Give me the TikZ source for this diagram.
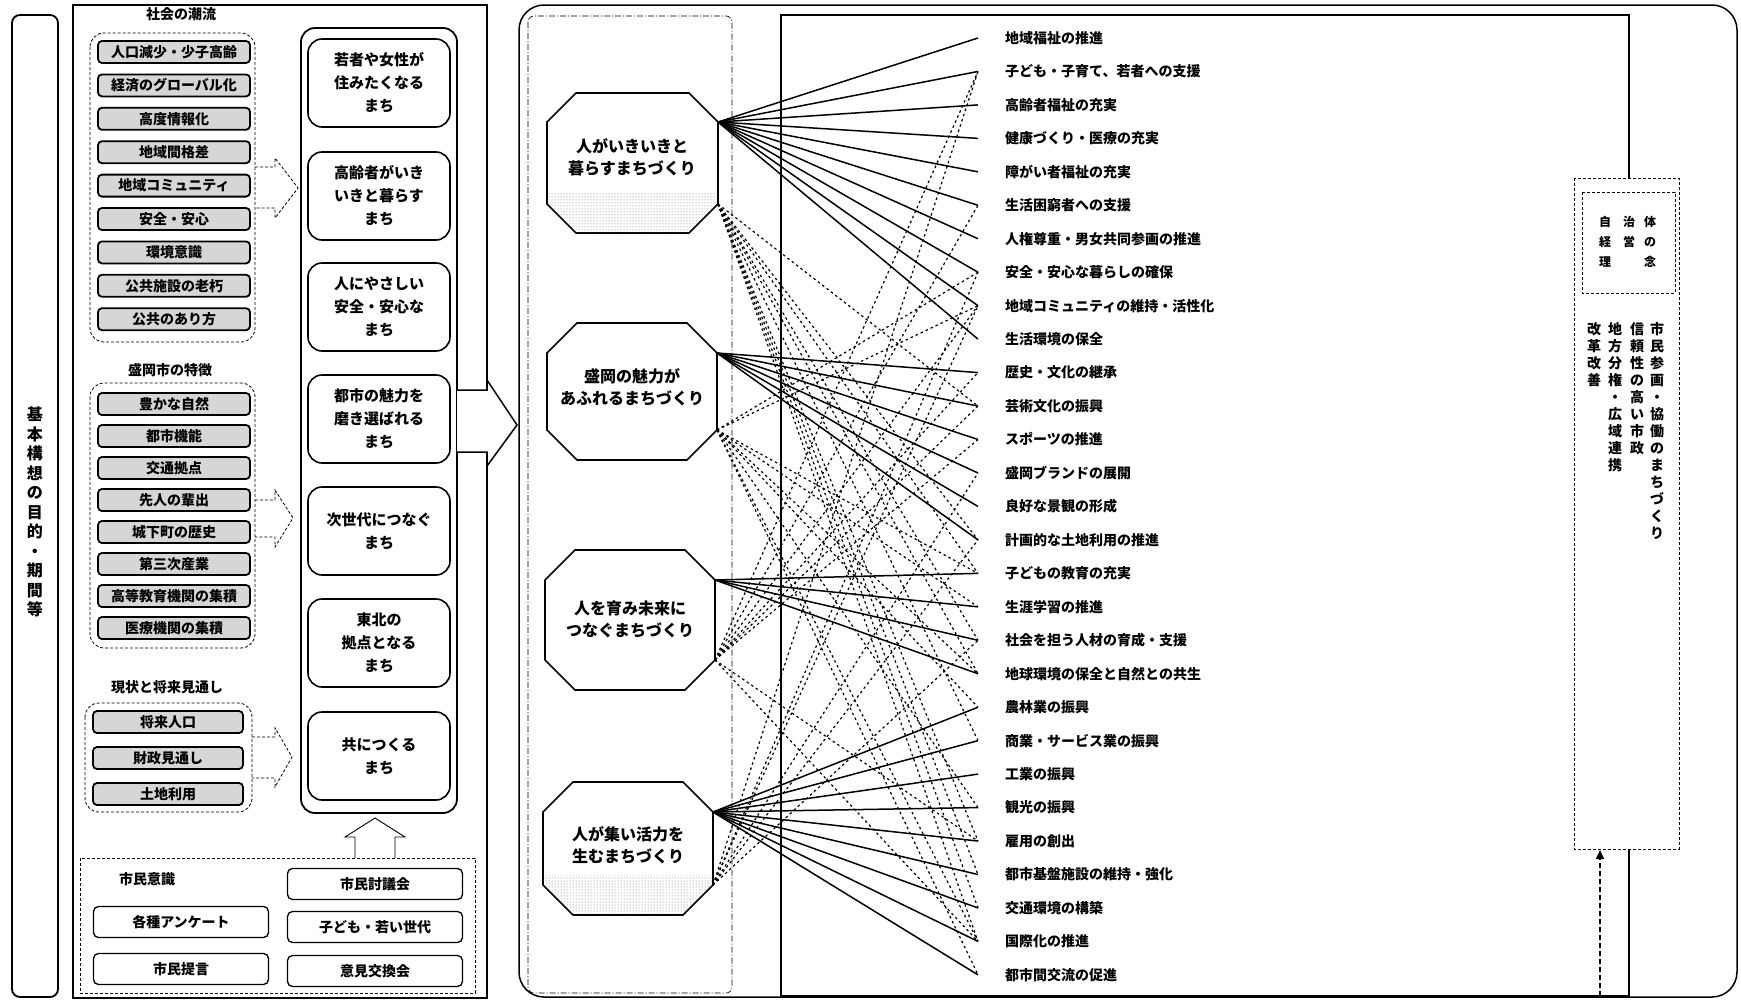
\documentclass[tikz,border=0pt]{standalone}
\usepackage{fontspec}
\setmainfont{Noto Sans CJK JP}
\usetikzlibrary{arrows.meta,calc,patterns}
\newcommand\myfs[2]{\fontsize{#1pt}{#2pt}\selectfont}
\newcommand\octa[6]{%
  \draw[octline,fill=white] (#2+#6,#3) -- (#4-#6,#3) -- (#4,#3+#6) -- (#4,#5-#6) -- (#4-#6,#5) -- (#2+#6,#5) -- (#2,#5-#6) -- (#2,#3+#6) -- cycle;
  \coordinate (#1s) at (#4,#3+#6);
  \coordinate (#1d) at (#4,#5-#6);
}
\newcommand\octastip[6]{%
  \begin{scope}
  \clip (#2+#6,#3) -- (#4-#6,#3) -- (#4,#3+#6) -- (#4,#5-#6) -- (#4-#6,#5) -- (#2+#6,#5) -- (#2,#5-#6) -- (#2,#3+#6) -- cycle;
  \fill[pattern=dots,pattern color=black!55] (#2,#5-40) rectangle (#4,#5);
  \end{scope}
}
\begin{document}
\begin{tikzpicture}[x=1pt,y=-1pt,
  every node/.style={font=\bfseries},
  ritem/.style={draw,line width=1.8pt,rounded corners=4pt,fill=black!16,minimum width=152pt,minimum height=22pt,inner sep=0pt,font=\bfseries\myfs{14}{14}},
  grp/.style={draw,densely dashed,line width=0.8pt,rounded corners=14pt},
  head/.style={font=\bfseries\myfs{14}{16}},
  cbox/.style={draw,line width=1.6pt,rounded corners=14pt,minimum width=142pt,minimum height=88pt,align=center,inner sep=0pt,font=\bfseries\myfs{15}{23}},
  sbox/.style={draw,line width=1.3pt,rounded corners=5pt,minimum width=175pt,minimum height=31pt,inner sep=0pt,font=\bfseries\myfs{14}{14}},
  harrow/.style={densely dashed,line width=0.8pt},
  octline/.style={line width=1.6pt},
  otext/.style={align=center,font=\bfseries\myfs{16}{22}},
  litem/.style={anchor=west,inner sep=0pt,font=\bfseries\myfs{14}{14}},
  solidlink/.style={line width=1.5pt},
  dotlink/.style={line width=1.2pt,dash pattern=on 2.5pt off 3pt},
  vt/.style={align=center,anchor=north,inner sep=0pt,font=\bfseries\myfs{14}{17}}
]
\useasboundingbox (0,0) rectangle (1741,1001);
\fill[white] (0,0) rectangle (1741,1001);

% ---- far-left tall box
\draw[line width=1.8pt,rounded corners=8pt] (12,15) rectangle (58,997);
\node[align=center,font=\bfseries\myfs{16}{19.5}] (purpose) at (35,512) {基\\本\\構\\想\\の\\目\\的\\・\\期\\間\\等};

% ---- left panel
\draw[line width=1.5pt] (73,5) rectangle (487,998);

% group 1
\node[head] (h1) at (181,14) {社会の潮流};
\draw[grp] (90,33) rectangle (255,342);
\foreach \t [count=\i] in {人口減少・少子高齢,経済のグローバル化,高度情報化,地域間格差,地域コミュニティ,安全・安心,環境意識,公共施設の老朽,公共のあり方}{
  \pgfmathsetmacro\yy{52+33.4*(\i-1)}
  \node[ritem] (ga\i) at (174,\yy) {\t};
}
% group 2
\node[head] (h2) at (170,370) {盛岡市の特徴};
\draw[grp] (90,383) rectangle (255,648);
\foreach \t [count=\i] in {豊かな自然,都市機能,交通拠点,先人の輩出,城下町の歴史,第三次産業,高等教育機関の集積,医療機関の集積}{
  \pgfmathsetmacro\yy{404+32*(\i-1)}
  \node[ritem] (gb\i) at (174,\yy) {\t};
}
% group 3
\node[head] (h3) at (167,687) {現状と将来見通し};
\draw[grp] (85,703) rectangle (252,812);
\foreach \t [count=\i] in {将来人口,財政見通し,土地利用}{
  \pgfmathsetmacro\yy{722+36*(\i-1)}
  \node[ritem,minimum width=150pt] (gc\i) at (168,\yy) {\t};
}

% hollow dashed arrows to column
\draw[harrow] (255,167) -- (275,167) -- (275,158) -- (298,188) -- (275,218) -- (275,208) -- (255,208);
\draw[harrow] (255,500) -- (275,500) -- (275,490) -- (293,518) -- (275,547) -- (275,537) -- (255,537);
\draw[harrow] (252,737) -- (275,737) -- (275,728) -- (292,757) -- (275,787) -- (275,778) -- (252,778);

% center column
\draw[line width=1.8pt,rounded corners=14pt] (301,28) rectangle (457,813);
\node[cbox] (c1) at (379,83) {若者や女性が\\住みたくなる\\まち};
\node[cbox] (c2) at (379,196) {高齢者がいき\\いきと暮らす\\まち};
\node[cbox] (c3) at (379,307) {人にやさしい\\安全・安心な\\まち};
\node[cbox] (c4) at (379,419) {都市の魅力を\\磨き選ばれる\\まち};
\node[cbox] (c5) at (379,531) {次世代につなぐ\\まち};
\node[cbox] (c6) at (379,643) {東北の\\拠点となる\\まち};
\node[cbox] (c7) at (379,756) {共につくる\\まち};

% citizen box
\draw[densely dashed,line width=0.8pt] (80,858) rectangle (475,993);
\node[head] (cz) at (147,879) {市民意識};
\node[sbox] (s1) at (375,884) {市民討議会};
\node[sbox] (s2) at (181,922) {各種アンケート};
\node[sbox] (s3) at (375,927) {子ども・若い世代};
\node[sbox] (s4) at (181,969) {市民提言};
\node[sbox] (s5) at (375,971) {意見交換会};
\draw[line width=0.9pt] (355,858) -- (355,837) -- (345,837) -- (375,818) -- (405,837) -- (395,837) -- (395,858);

% big hollow arrow
\draw[line width=1.5pt,fill=white] (457,390) -- (487,390) -- (487,380) -- (517,425) -- (487,466) -- (487,452) -- (457,452);

% ---- right panel
\draw[line width=1.5pt,rounded corners=25pt] (519,5) rectangle (1737,997);
\draw[line width=0.6pt,dash pattern=on 6pt off 2pt on 1pt off 2pt,rounded corners=6pt] (528,16) rectangle (732,993);
\draw[line width=1.2pt] (1629,178) -- (1629,15) -- (781,15) -- (781,996) -- (1629,996) -- (1629,849);

% octagons
\octa{o1}{547}{93}{718}{233}{29}
\octastip{o1}{547}{93}{718}{233}{29}
\octa{o2}{547}{323}{717}{460}{30}
\octa{o3}{545}{550}{715}{690}{30}
\octa{o4}{543}{782}{713}{915}{30}
\octastip{o4}{543}{782}{713}{915}{30}
\node[otext] (ot1) at (632,157) {人がいきいきと\\暮らすまちづくり};
\node[otext] (ot2) at (632,387) {盛岡の魅力が\\あふれるまちづくり};
\node[otext] (ot3) at (630,619) {人を育み未来に\\つなぐまちづくり};
\node[otext] (ot4) at (628,845) {人が集い活力を\\生むまちづくり};

% list of policies
\foreach \t [count=\i] in {地域福祉の推進,子ども・子育て、若者への支援,高齢者福祉の充実,健康づくり・医療の充実,障がい者福祉の充実,生活困窮者への支援,人権尊重・男女共同参画の推進,安全・安心な暮らしの確保,地域コミュニティの維持・活性化,生活環境の保全,歴史・文化の継承,芸術文化の振興,スポーツの推進,盛岡ブランドの展開,良好な景観の形成,計画的な土地利用の推進,子どもの教育の充実,生涯学習の推進,社会を担う人材の育成・支援,地球環境の保全と自然との共生,農林業の振興,商業・サービス業の振興,工業の振興,観光の振興,雇用の創出,都市基盤施設の維持・強化,交通環境の構築,国際化の推進,都市間交流の促進}{
  \pgfmathsetmacro\yy{38+33.46*(\i-1)}
  \node[litem] (t\i) at (1005,\yy) {\t};
  \coordinate (p\i) at (978,\yy);
}

% solid links
\foreach \i in {1,...,10} \draw[solidlink] (o1s) -- (p\i);
\foreach \i in {11,...,16} \draw[solidlink] (o2s) -- (p\i);
\foreach \i in {17,...,20} \draw[solidlink] (o3s) -- (p\i);
\foreach \i in {21,...,29} \draw[solidlink] (o4s) -- (p\i);

% dotted links
\foreach \i in {12,16,17,19,20,22,25,26,27,28} \draw[dotlink] (o1d) -- (p\i);
\foreach \i in {8,9,17,18,20,21,24,28,29} \draw[dotlink] (o2d) -- (p\i);
\foreach \i in {2,6,9,11,12,13,25,28} \draw[dotlink] (o3d) -- (p\i);
\foreach \i in {2,8,9,14,16,19} \draw[dotlink] (o4d) -- (p\i);

% ---- management philosophy box
\draw[densely dashed,line width=0.9pt,fill=white] (1574,178) rectangle (1679,849);
\draw[densely dashed,line width=0.6pt] (1582,192) rectangle (1675,293);
\foreach \c/\x/\y [count=\k] in {自/1605/222,治/1629/222,体/1650/222,経/1605/242,営/1629/242,の/1650/242,理/1605/262,念/1650/262}
  \node[inner sep=0pt,font=\bfseries\myfs{12}{12}] (r\k) at (\x,\y) {\c};
\node[vt] (v1) at (1657,322) {市\\民\\参\\画\\・\\協\\働\\の\\ま\\ち\\づ\\く\\り};
\node[vt] (v2) at (1637,322) {信\\頼\\性\\の\\高\\い\\市\\政};
\node[vt] (v3) at (1615,322) {地\\方\\分\\権\\・\\広\\域\\連\\携};
\node[vt] (v4) at (1594,322) {改\\革\\改\\善};
\coordinate (arrB) at (1600,996);
\coordinate (arrT) at (1600,850);
\draw[line width=1.6pt,dash pattern=on 5pt off 3pt,-{Triangle[length=9pt,width=8pt]}] (arrB) -- (arrT);
\end{tikzpicture}
\end{document}
